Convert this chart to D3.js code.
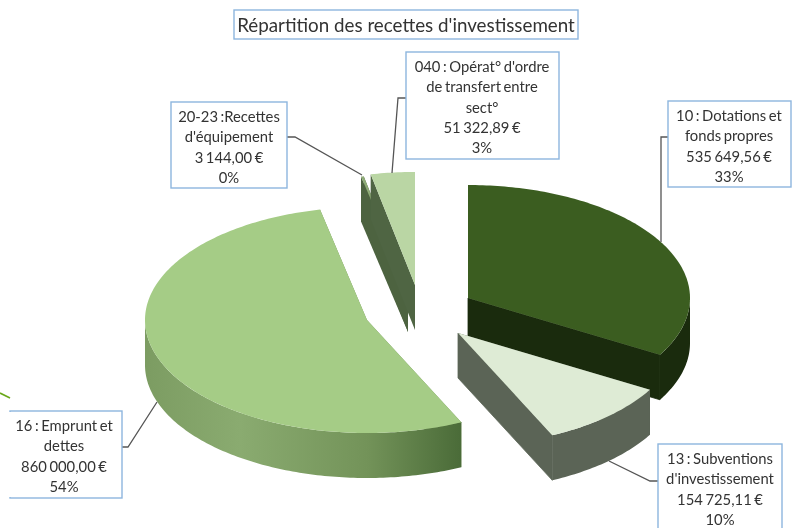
<!DOCTYPE html>
<html><head><meta charset="utf-8">
<script src="https://cdn.jsdelivr.net/npm/d3@7/dist/d3.min.js"></script>
<style>html,body{margin:0;padding:0;background:#fff}svg{display:block;filter:blur(0.45px)}text{font-family:Lato,"Open Sans",sans-serif;fill:#333}</style>
</head><body><svg id="c" width="795" height="528"></svg>
<script>
const chartTitle = "Répartition des recettes d'investissement";
const categories = ["10","13","16","20-23","040"];
const values = [535649.56,154725.11,860000,3144,51322.89];
const nameLines = [["10 : Dotations et","fonds propres"],["13 : Subventions","d'investissement"],["16 : Emprunt et","dettes"],["20-23 :Recettes","d'équipement"],["040 : Opérat° d'ordre","de transfert entre","sect°"]];
const amounts = ["535 649,56 €","154 725,11 €","860 000,00 €","3 144,00 €","51 322,89 €"];
const percents = ["33%","10%","54%","0%","3%"];

// layout
const RX=222, RY=113, DEPTH=45;
const centers=[[468,298],[458,333],[367,320],[408,287],[415,285]];
const topColors=["#3b5d20","#deebd5","#a5cc86","#8eab76","#bad6a4"];
const wallColors=["#1a2b0d","#5b6456","url(#g16)","#4d6340","#4f6543"];
const boxes=[
 {x:668,y:101,w:123,h:86,cx:729,ty:116,lead:[[668,137],[661,137],[661,242]]},
 {x:658,y:444,w:124,h:90,cx:720,ty:459,lead:[[658,481],[650,481],[609,461]]},
 {x:10,y:411,w:112,h:87,cx:64,ty:426,lead:[[122,447],[128,447],[157,402]],noLeft:true},
 {x:171,y:102,w:116,h:86,cx:229,ty:117,lead:[[287,137],[295,137],[362,175]]},
 {x:406,y:52,w:153,h:107,cx:482,ty:67,lead:[[406,98],[398,98],[392,173]]}
];
const drawOrder=[3,4,2,0,1];

const svg=d3.select("#c");
const defs=svg.append("defs");
const g=defs.append("linearGradient").attr("id","g16").attr("gradientUnits","userSpaceOnUse")
 .attr("x1",145).attr("x2",462).attr("y1",0).attr("y2",0);
[[0,"#7c9c62"],[0.3,"#8aab70"],[0.7,"#739359"],[1,"#4a6b38"]].forEach(s=>g.append("stop").attr("offset",s[0]).attr("stop-color",s[1]));

const pie=d3.pie().sort(null).value(d=>d);
const arcs=pie(values);
const line=d3.line();
const pt=(c,a,dy=0)=>[c[0]+RX*Math.sin(a),c[1]-RY*Math.cos(a)+dy];
const rim=(c,a0,a1,dy=0)=>{const n=Math.max(2,Math.ceil((a1-a0)*60));return d3.range(n+1).map(i=>pt(c,a0+(a1-a0)*i/n,dy));};
const PI=Math.PI;

drawOrder.forEach(i=>{
 const a=arcs[i],c=centers[i],s=a.startAngle,e=a.endAngle;
 const G=svg.append("g");
 const flat=i===2?"#6f8f56":wallColors[i];
 [s,e].forEach(t=>{
  const pp=pt(c,t);
  const seam=(t===e&&i<2);
  G.append("path").attr("d",line([c,pp,[pp[0],pp[1]+DEPTH],[c[0],c[1]+DEPTH]])+"Z").attr("fill",flat)
   .attr("stroke",seam?flat:"none").attr("stroke-width",0.8);
 });
 const f0=Math.max(s,PI/2),f1=Math.min(e,3*PI/2);
 if(f1>f0){
  const top=rim(c,f0,f1),bot=rim(c,f0,f1,DEPTH).reverse();
  G.append("path").attr("d",line(top.concat(bot))+"Z").attr("fill",wallColors[i]);
 }
 G.append("path").attr("d",line([c].concat(rim(c,s,e)))+"Z").attr("fill",topColors[i]);
});

// leader lines
boxes.forEach(b=>svg.append("path").attr("d",d3.line()(b.lead)).attr("fill","none").attr("stroke","#555").attr("stroke-width",1.3));

// label boxes
const BORDER="#8db6de";
boxes.forEach((b,i)=>{
 svg.append("rect").attr("x",b.x).attr("y",b.y).attr("width",b.w).attr("height",b.h).attr("fill","#fff").attr("stroke",BORDER).attr("stroke-width",1.4);
 if(b.noLeft) svg.append("rect").attr("x",0).attr("y",b.y+1).attr("width",b.x+1).attr("height",b.h-2).attr("fill","#fff");
 const ls=nameLines[i].concat([amounts[i],percents[i]]);
 ls.forEach((t,j)=>svg.append("text").attr("x",b.cx).attr("y",b.ty+j*20.2).attr("dy","0.35em").attr("text-anchor","middle").attr("font-size",14.8).attr("word-spacing",-1.2).text(t));
});

// title
svg.append("rect").attr("x",234).attr("y",10).attr("width",344).attr("height",29).attr("fill","#fff").attr("stroke",BORDER).attr("stroke-width",1.4);
svg.append("text").attr("x",406).attr("y",25).attr("dy","0.35em").attr("text-anchor","middle").attr("font-size",18.8).text(chartTitle);

// stray decoration at the left edge
svg.append("path").attr("d",d3.line()([[0,393],[10,398]])).attr("stroke","#6aa81a").attr("stroke-width",1.6).attr("fill","none");
</script></body></html>
